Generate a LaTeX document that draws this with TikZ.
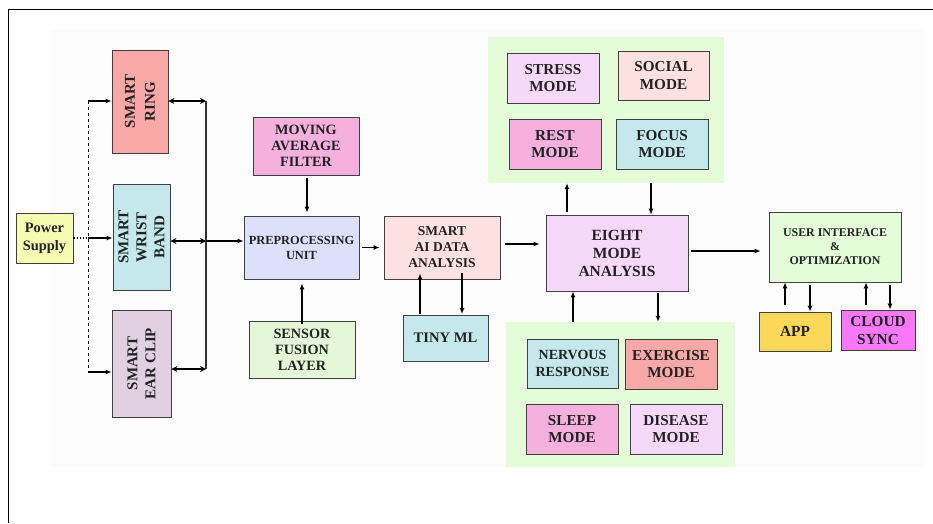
\documentclass[tikz,border=0pt]{standalone}
\usepackage{fontspec}
\setmainfont{Liberation Serif}
\usetikzlibrary{arrows.meta}
\definecolor{cRing}{HTML}{F9A8A8}
\definecolor{cCyan}{HTML}{C4E8EC}
\definecolor{cEar}{HTML}{E0D0E2}
\definecolor{cPink}{HTML}{F5B0DE}
\definecolor{cLav}{HTML}{DDE0FA}
\definecolor{cGreen}{HTML}{E4F8D8}
\definecolor{cPanel}{HTML}{E4FCD8}
\definecolor{cRose}{HTML}{FDE0E0}
\definecolor{cLilac}{HTML}{F5D8FA}
\definecolor{cYel}{HTML}{F5FBB0}
\definecolor{cApp}{HTML}{FCD85A}
\definecolor{cMag}{HTML}{F878F8}
\definecolor{cTxt}{HTML}{222222}
\tikzset{
  box/.style={draw=black!75, line width=0.8pt, align=center, inner sep=1pt,
     font=\bfseries\fontsize{14.2}{16}\selectfont, text=cTxt},
  mode/.style={box, font=\bfseries\fontsize{15.2}{17.5}\selectfont},
  vtext/.style={rotate=90, align=center, text=cTxt},
  panel/.style={fill=cPanel, draw=none},
  arr/.style={line width=1.2pt, -{Latex[length=6pt,width=5pt]}},
  darr/.style={line width=1.2pt, {Stealth[length=6pt,width=6pt]}-{Stealth[length=6pt,width=6pt]}},
}
\begin{document}
\begin{tikzpicture}[x=1pt,y=-1pt]
\useasboundingbox (0,0) rectangle (933,523);
\fill[black!1.2] (50,30) rectangle (925,467);
\draw[line width=1pt] (8,523) -- (8,9) -- (933,9);
% panels
\node[panel, minimum width=236pt, minimum height=146pt] (tp) at (606,110) {};
\node[panel, minimum width=229pt, minimum height=145pt] (bp) at (620.5,394.5) {};
% left
\node[box, fill=cYel, minimum width=57pt, minimum height=50pt, font=\bfseries\fontsize{14.4}{18}\selectfont] (ps) at (44.5,238) {Power\\Supply};
\node[box, fill=cRing, minimum width=56pt, minimum height=103pt] (ring) at (140,101.5) {};
\node[vtext, font=\bfseries\fontsize{15}{20}\selectfont] at (ring) {SMART\\RING};
\node[box, fill=cCyan, minimum width=57pt, minimum height=106pt] (wrist) at (141.5,237) {};
\node[vtext, font=\bfseries\fontsize{15}{18}\selectfont] at (wrist) {SMART\\WRIST\\BAND};
\node[box, fill=cEar, minimum width=59pt, minimum height=107pt] (ear) at (141.5,363.5) {};
\node[vtext, font=\bfseries\fontsize{15}{18}\selectfont] at (ear) {SMART\\EAR CLIP};
% middle
\node[box, fill=cPink, minimum width=106pt, minimum height=58pt] (maf) at (306,146) {MOVING\\AVERAGE\\FILTER};
\node[box, fill=cLav, minimum width=115pt, minimum height=63pt, font=\bfseries\fontsize{12.4}{15}\selectfont] (pu) at (301.5,247.5) {PREPROCESSING\\UNIT};
\node[box, fill=cGreen, minimum width=106pt, minimum height=57pt] (sfl) at (302,349.5) {SENSOR\\FUSION\\LAYER};
\node[box, fill=cRose, minimum width=116pt, minimum height=63pt, font=\bfseries\fontsize{13.5}{16}\selectfont] (sai) at (442,247.5) {SMART\\AI DATA\\ANALYSIS};
\node[box, fill=cCyan, minimum width=85pt, minimum height=46pt, font=\bfseries\fontsize{14.6}{16}\selectfont] (tiny) at (445.5,338) {TINY ML};
% eight mode
\node[box, fill=cLilac, minimum width=142pt, minimum height=76pt, font=\bfseries\fontsize{15.5}{18}\selectfont] (ema) at (617,253) {EIGHT\\MODE\\ANALYSIS};
\node[mode, fill=cLilac, minimum width=92pt, minimum height=50pt] (stress) at (553,78) {STRESS\\MODE};
\node[mode, fill=cRose, minimum width=91pt, minimum height=49pt] (social) at (663.5,75.5) {SOCIAL\\MODE};
\node[mode, fill=cPink, minimum width=92pt, minimum height=50pt] (rest) at (555,144) {REST\\MODE};
\node[mode, fill=cCyan, minimum width=92pt, minimum height=50pt] (focus) at (662,144) {FOCUS\\MODE};
\node[box, fill=cCyan, minimum width=91pt, minimum height=49pt, font=\bfseries\fontsize{14}{17}\selectfont] (nerv) at (572.5,363.5) {NERVOUS\\RESPONSE};
\node[mode, fill=cRing, minimum width=92pt, minimum height=50pt] (exer) at (671,364) {EXERCISE\\MODE};
\node[mode, fill=cPink, minimum width=92pt, minimum height=50pt] (sleep) at (572,429) {SLEEP\\MODE};
\node[mode, fill=cLilac, minimum width=92pt, minimum height=50pt] (dis) at (676,429) {DISEASE\\MODE};
% right
\node[box, fill=cPanel, minimum width=132pt, minimum height=70pt, font=\bfseries\fontsize{11.9}{14}\selectfont] (ui) at (835,247) {USER INTERFACE\\\&\\OPTIMIZATION};
\node[box, fill=cApp, minimum width=72pt, minimum height=39pt, font=\bfseries\fontsize{15.4}{18}\selectfont] (app) at (795,331.5) {APP};
\node[box, fill=cMag, minimum width=74pt, minimum height=40pt, font=\bfseries\fontsize{15.3}{18}\selectfont] (cloud) at (878,330) {CLOUD\\SYNC};
% power connectors
\coordinate (pt) at (88,101);
\coordinate (pm) at (88,238);
\coordinate (pb) at (88,372);
\draw[line width=1.2pt, dotted] (ps.east) -- (pm);
\draw[line width=1pt, dashed] (pt) -- (pb);
\draw[arr] (pt) -- (pt -| ring.west);
\draw[arr] (pm) -- (pm -| wrist.west);
\draw[arr] (pb) -- (pb -| ear.west);
% bus
\coordinate (bt) at (206,101);
\coordinate (bm) at (206,241);
\coordinate (bb) at (206,369);
\draw[line width=1.3pt, black!80] (bt) -- (bb);
\draw[darr] (ring.east |- bt) -- (bt);
\draw[darr] (wrist.east |- bm) -- (bm);
\draw[darr] (ear.east |- bb) -- (bb);
\draw[arr] (bm) -- (bm -| pu.west);
% middle connectors
\draw[arr] ([xshift=1pt,yshift=-3pt]maf.south) -- ([xshift=1pt,yshift=3pt]maf.south |- pu.north);
\draw[arr] ([yshift=-3pt]sfl.north) -- ([yshift=-4pt]sfl.north |- pu.south);
\draw[arr] ([xshift=3pt]pu.east) -- ([xshift=-4pt]pu.east -| sai.west);
\coordinate (t1) at (420,314);
\coordinate (t2) at (462,314);
\draw[arr] (t1) -- ([yshift=6pt]t1 |- sai.south);
\draw[arr] ([yshift=6pt]t2 |- sai.south) -- (t2);
\coordinate (s1) at (505,244);
\draw[arr] (s1) -- ([xshift=-6pt]s1 -| ema.west);
% eight mode connectors
\coordinate (e1) at (567,212);
\coordinate (e2) at (651,183);
\draw[arr] (e1) -- (e1 |- tp.south);
\draw[arr] (e2) -- (e2 |- ema.north);
\coordinate (e3) at (573,322);
\coordinate (e4) at (658,293);
\draw[arr] (e3) -- (e3 |- ema.south);
\draw[arr] (e4) -- (e4 |- bp.north);
\coordinate (e5) at (691,251);
\draw[arr] (e5) -- ([xshift=-8pt]e5 -| ui.west);
% ui connectors
\coordinate (u1) at (785,305);
\coordinate (u2) at (810,285);
\coordinate (u3) at (866,305);
\coordinate (u4) at (890,285);
\draw[arr] (u1) -- (u1 |- ui.south);
\draw[arr] (u2) -- (u2 |- app.north);
\draw[arr] (u3) -- (u3 |- ui.south);
\draw[arr] (u4) -- (u4 |- cloud.north);
\end{tikzpicture}
\end{document}
